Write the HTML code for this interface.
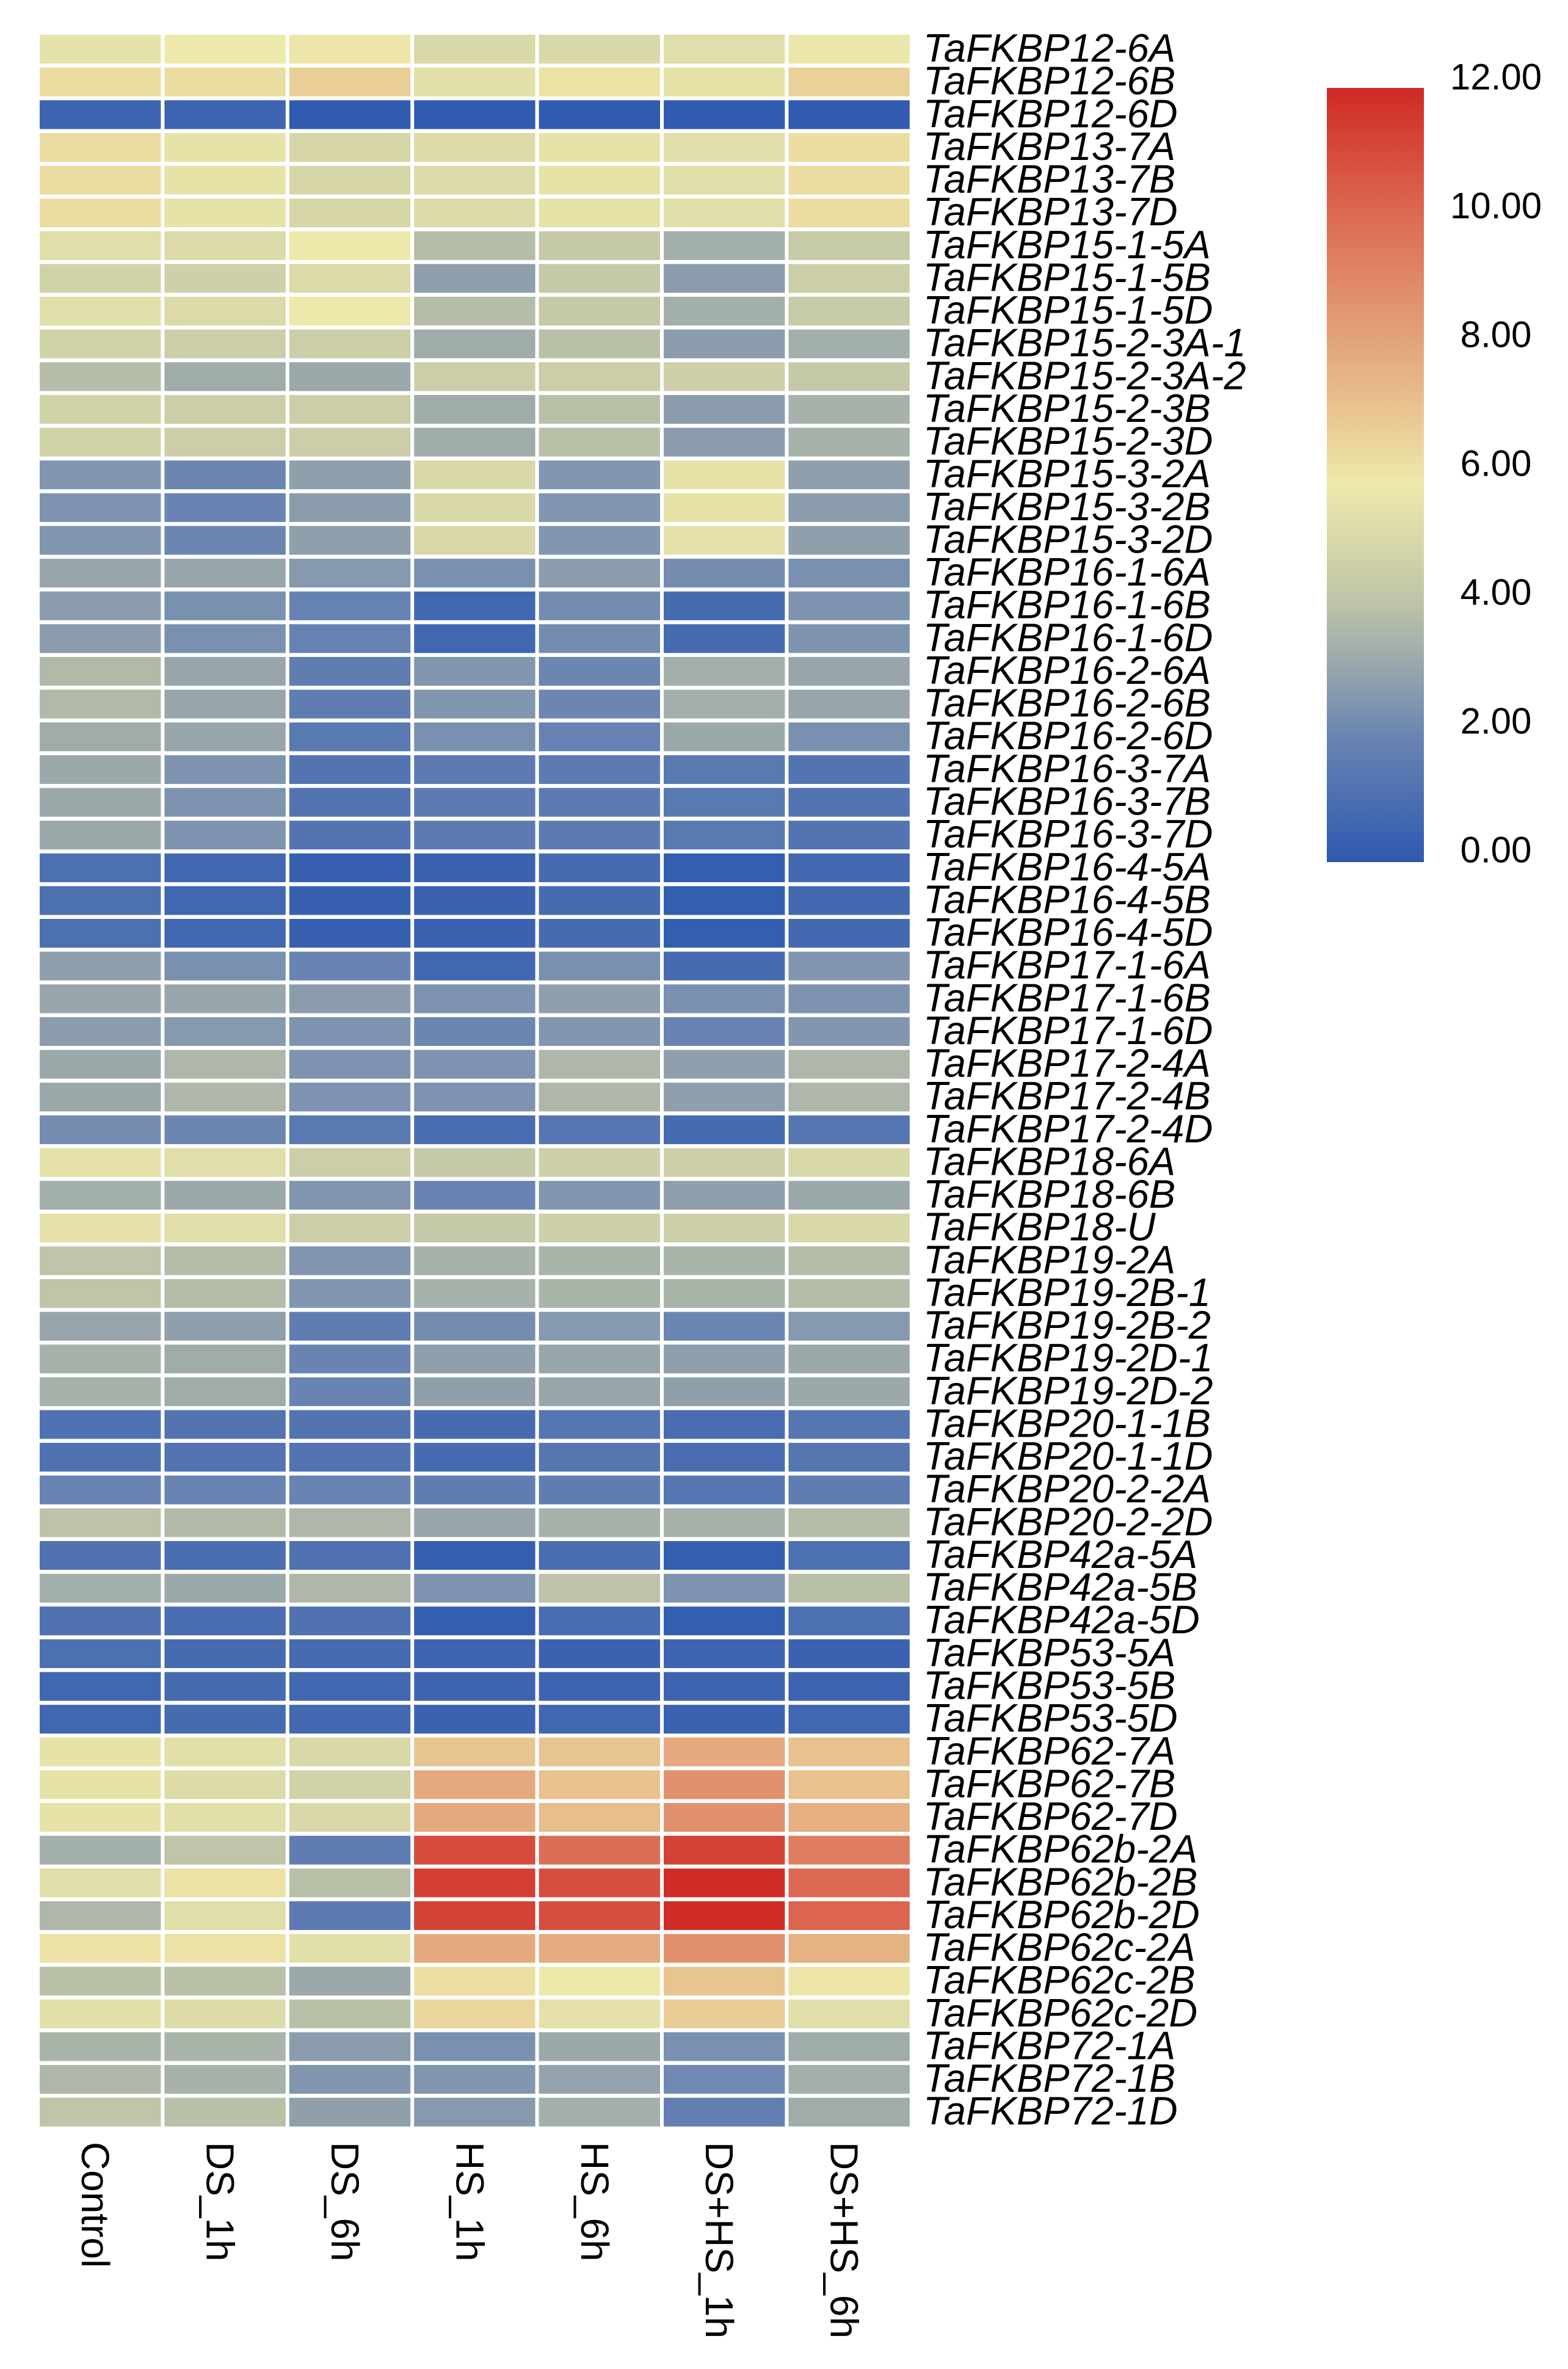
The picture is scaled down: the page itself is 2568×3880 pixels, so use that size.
<!DOCTYPE html>
<html><head><meta charset="utf-8"><style>
html,body{margin:0;padding:0;background:#fff;}
svg{display:block;}
</style></head><body>
<svg id="chart" width="2568" height="3880" viewBox="0 0 2568 3880" xmlns="http://www.w3.org/2000/svg">
<defs>
<linearGradient id="cbar" x1="0" y1="1" x2="0" y2="0">
<stop offset="0" stop-color="#2e59b0"/>
<stop offset="0.1667" stop-color="#6c86b2"/>
<stop offset="0.25" stop-color="#98a6ab"/>
<stop offset="0.3333" stop-color="#bcc3a8"/>
<stop offset="0.4167" stop-color="#d9d8a8"/>
<stop offset="0.49" stop-color="#ede9aa"/>
<stop offset="0.5833" stop-color="#e8c490"/>
<stop offset="0.6667" stop-color="#e3a67c"/>
<stop offset="0.8333" stop-color="#dc6b54"/>
<stop offset="1" stop-color="#cf2a26"/>
</linearGradient>
</defs>
<g id="cells"></g>
<g id="rowlabels"></g>
<g id="collabels"></g>
<g id="legend">
<rect x="2173" y="144" width="159" height="1268" fill="url(#cbar)"/>
</g>
</svg>
<script>
const conditions = ["Control","DS_1h","DS_6h","HS_1h","HS_6h","DS+HS_1h","DS+HS_6h"];
const genes = ["TaFKBP12-6A","TaFKBP12-6B","TaFKBP12-6D","TaFKBP13-7A","TaFKBP13-7B","TaFKBP13-7D","TaFKBP15-1-5A","TaFKBP15-1-5B","TaFKBP15-1-5D","TaFKBP15-2-3A-1","TaFKBP15-2-3A-2","TaFKBP15-2-3B","TaFKBP15-2-3D","TaFKBP15-3-2A","TaFKBP15-3-2B","TaFKBP15-3-2D","TaFKBP16-1-6A","TaFKBP16-1-6B","TaFKBP16-1-6D","TaFKBP16-2-6A","TaFKBP16-2-6B","TaFKBP16-2-6D","TaFKBP16-3-7A","TaFKBP16-3-7B","TaFKBP16-3-7D","TaFKBP16-4-5A","TaFKBP16-4-5B","TaFKBP16-4-5D","TaFKBP17-1-6A","TaFKBP17-1-6B","TaFKBP17-1-6D","TaFKBP17-2-4A","TaFKBP17-2-4B","TaFKBP17-2-4D","TaFKBP18-6A","TaFKBP18-6B","TaFKBP18-U","TaFKBP19-2A","TaFKBP19-2B-1","TaFKBP19-2B-2","TaFKBP19-2D-1","TaFKBP19-2D-2","TaFKBP20-1-1B","TaFKBP20-1-1D","TaFKBP20-2-2A","TaFKBP20-2-2D","TaFKBP42a-5A","TaFKBP42a-5B","TaFKBP42a-5D","TaFKBP53-5A","TaFKBP53-5B","TaFKBP53-5D","TaFKBP62-7A","TaFKBP62-7B","TaFKBP62-7D","TaFKBP62b-2A","TaFKBP62b-2B","TaFKBP62b-2D","TaFKBP62c-2A","TaFKBP62c-2B","TaFKBP62c-2D","TaFKBP72-1A","TaFKBP72-1B","TaFKBP72-1D"];
const values = [
[5.6,5.9,6.0,5.0,5.0,5.3,5.8],
[6.3,6.3,6.7,5.4,6.1,5.6,6.6],
[0.5,0.5,0.1,0.1,0.1,0.1,0.1],
[6.3,5.6,4.9,5.1,5.6,5.3,6.3],
[6.3,5.6,4.9,5.1,5.6,5.3,6.3],
[6.3,5.6,4.9,5.1,5.6,5.3,6.3],
[5.3,5.1,5.9,3.8,4.3,3.3,4.4],
[4.7,4.6,5.1,2.8,4.3,2.7,4.5],
[5.3,5.1,5.9,3.8,4.3,3.3,4.4],
[4.7,4.5,4.5,3.2,3.9,2.7,3.3],
[3.8,3.2,3.1,4.5,4.5,4.6,4.3],
[4.7,4.5,4.5,3.2,3.9,2.7,3.4],
[4.7,4.5,4.5,3.2,3.9,2.7,3.4],
[2.5,2.0,2.8,5.0,2.5,5.6,2.8],
[2.4,1.9,2.7,5.0,2.5,5.6,2.7],
[2.5,2.0,2.8,5.0,2.5,5.5,2.8],
[3.0,3.0,2.6,2.3,2.7,2.2,2.3],
[2.7,2.3,1.8,0.6,2.2,0.8,2.4],
[2.7,2.3,1.8,0.6,2.2,0.8,2.4],
[3.7,3.0,1.6,2.5,2.0,3.3,3.0],
[3.7,3.0,1.6,2.5,2.0,3.3,3.0],
[3.2,3.0,1.4,2.3,1.8,3.1,2.3],
[3.1,2.4,1.2,1.5,1.5,1.4,1.2],
[3.1,2.4,1.2,1.5,1.5,1.4,1.2],
[3.1,2.4,1.2,1.5,1.5,1.4,1.2],
[1.0,0.6,0.3,0.4,0.8,0.2,0.7],
[1.0,0.6,0.3,0.4,0.8,0.2,0.7],
[1.0,0.6,0.3,0.4,0.8,0.2,0.7],
[2.8,2.3,1.9,0.6,2.3,0.8,2.5],
[3.0,3.0,2.7,2.4,2.8,2.3,2.4],
[2.7,2.6,2.4,2.0,2.5,1.9,2.5],
[3.1,3.6,2.4,2.4,3.6,2.8,3.6],
[3.1,3.6,2.4,2.4,3.6,2.8,3.6],
[2.2,2.0,1.4,0.9,1.3,0.8,1.3],
[5.5,5.3,4.5,4.3,4.6,4.6,5.0],
[3.3,3.1,2.5,1.9,2.5,2.8,3.1],
[5.5,5.3,4.5,4.3,4.6,4.6,5.0],
[4.1,3.8,2.5,3.4,3.5,3.5,3.8],
[4.1,3.8,2.5,3.4,3.5,3.5,3.8],
[3.0,2.8,1.6,2.2,2.6,2.0,2.6],
[3.4,3.2,1.9,2.8,3.0,2.8,3.1],
[3.4,3.2,1.9,2.8,3.0,2.8,3.1],
[1.1,1.2,1.2,0.8,1.3,0.9,1.3],
[1.1,1.2,1.2,0.8,1.3,0.9,1.3],
[1.9,1.9,1.9,1.6,1.6,1.3,1.6],
[4.0,3.7,3.6,3.0,3.4,3.4,3.8],
[1.1,0.9,1.1,0.2,0.9,0.2,1.0],
[3.3,3.1,3.6,2.4,4.0,2.4,3.9],
[1.1,0.9,1.1,0.2,0.9,0.2,1.0],
[1.0,0.8,0.8,0.5,0.4,0.5,0.4],
[0.6,0.8,0.6,0.5,0.5,0.5,0.5],
[0.6,0.8,0.7,0.4,0.6,0.4,0.6],
[5.6,5.4,5.0,7.0,7.0,7.9,7.1],
[5.6,5.2,4.7,7.9,7.1,8.7,7.1],
[5.6,5.4,5.0,7.9,7.2,8.7,7.7],
[3.3,4.1,1.6,11.0,9.9,11.3,9.4],
[5.3,6.1,3.9,11.4,10.9,11.9,10.1],
[3.6,5.3,1.5,11.3,10.9,11.9,10.2],
[6.1,6.1,5.4,7.9,7.8,8.7,7.6],
[3.9,3.9,3.1,6.2,5.9,7.0,6.0],
[5.4,5.2,3.9,6.5,5.5,6.8,5.3],
[3.5,3.5,2.7,2.3,3.1,2.3,3.2],
[3.6,3.4,2.5,2.5,2.9,2.1,3.3],
[4.1,3.9,2.8,2.6,3.3,1.7,3.2]
];
const tickValues = [0,2,4,6,8,10,12];
const tickLabels = ["0.00","2.00","4.00","6.00","8.00","10.00","12.00"];

const NS = "http://www.w3.org/2000/svg";
const stops = [[0,[46,89,176]],[2,[108,134,178]],[3,[152,166,171]],[4,[188,195,168]],[5,[217,216,168]],[5.9,[237,233,170]],[7,[232,196,144]],[8,[227,166,124]],[10,[220,107,84]],[12,[207,42,38]]];
function colorOf(v){
  v=Math.max(0,Math.min(12,v));
  for(let i=0;i<stops.length-1;i++){
    const a=stops[i],b=stops[i+1];
    if(v<=b[0]){const t=(v-a[0])/(b[0]-a[0]);
      const c=a[1].map((x,k)=>Math.round(x+(b[1][k]-x)*t));
      return "rgb("+c.join(",")+")";}
  }
  return "rgb(207,42,38)";
}
const X0=65, COLW=204.4, Y0=57, ROWH=53.63, GAPX=6, GAPY=6.5;
function xPos(j){return X0+j*COLW;}
function yPos(i){return Y0+i*ROWH;}
function legendY(v){return 1392-v*105.5;}

const cells=document.getElementById('cells');
values.forEach((row,i)=>{
  row.forEach((v,j)=>{
    const r=document.createElementNS(NS,'rect');
    r.setAttribute('x',xPos(j)); r.setAttribute('y',yPos(i));
    r.setAttribute('width',COLW-GAPX); r.setAttribute('height',ROWH-GAPY);
    r.setAttribute('fill',colorOf(v));
    
    
    cells.appendChild(r);
  });
});
const rl=document.getElementById('rowlabels');
genes.forEach((g,i)=>{
  const t=document.createElementNS(NS,'text');
  t.setAttribute('x',1512); t.setAttribute('y',yPos(i)+44);
  t.setAttribute('font-family','"Liberation Sans", sans-serif');
  t.setAttribute('font-style','italic'); t.setAttribute('font-size','65');
  t.textContent=g;
  
  
  rl.appendChild(t);
});
const cl=document.getElementById('collabels');
conditions.forEach((c,j)=>{
  const t=document.createElementNS(NS,'text');
  const cx=xPos(j)+(COLW-GAPX)/2-8;
  t.setAttribute('transform','translate('+cx+',3508) rotate(90)');
  t.setAttribute('dominant-baseline','central');
  t.setAttribute('font-family','"Liberation Sans", sans-serif');
  t.setAttribute('font-size','64');
  t.textContent=c;
  
  
  cl.appendChild(t);
});
const lg=document.getElementById('legend');
tickValues.forEach((v,k)=>{
  const t=document.createElementNS(NS,'text');
  t.setAttribute('x',2450); t.setAttribute('y',legendY(v));
  t.setAttribute('text-anchor','middle');
  t.setAttribute('dominant-baseline','central');
  t.setAttribute('font-family','"Liberation Sans", sans-serif');
  t.setAttribute('font-size','60');
  t.textContent=tickLabels[k];
  
  
  lg.appendChild(t);
});
</script>
</body></html>
